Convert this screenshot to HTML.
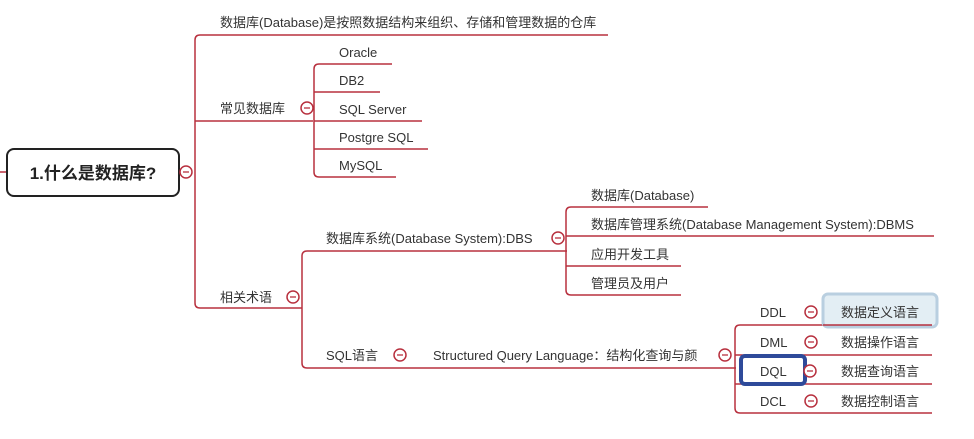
<!DOCTYPE html>
<html><head><meta charset="utf-8"><style>
html,body{margin:0;padding:0;background:#fff;width:974px;height:439px;overflow:hidden}
text{font-family:"Liberation Sans","Noto Sans CJK SC",sans-serif;font-size:13px;fill:#333}
</style></head><body>
<svg width="974" height="439" viewBox="0 0 974 439" xmlns="http://www.w3.org/2000/svg">
<g fill="none" stroke="#b8313f" stroke-width="1.5">
<line x1="0" y1="172" x2="7" y2="172"/>
<path d="M195 40 Q195 35 200 35 H608"/>
<line x1="195" y1="40" x2="195" y2="303"/>
<path d="M195 303 Q195 308 200 308 H300"/>
<line x1="195" y1="121" x2="313" y2="121"/>
<path d="M392 64 H319 Q314 64 314 69 V172 Q314 177 319 177 H396"/>
<line x1="314" y1="92" x2="380" y2="92"/>
<line x1="314" y1="121" x2="422" y2="121"/>
<line x1="314" y1="149" x2="428" y2="149"/>
<path d="M567 251 H307 Q302 251 302 256 V363 Q302 368 307 368 H736"/>
<line x1="300" y1="308" x2="302" y2="308"/>
<path d="M708 207 H571 Q566 207 566 212 V290 Q566 295 571 295 H681"/>
<line x1="566" y1="236" x2="934" y2="236"/>
<line x1="566" y1="266" x2="681" y2="266"/>
<path d="M932 325 H740 Q735 325 735 330 V408 Q735 413 740 413 H932"/>
<line x1="735" y1="355" x2="932" y2="355"/>
<line x1="735" y1="384" x2="932" y2="384"/>
</g>
<rect x="823" y="294" width="114" height="33" rx="5" fill="#e3eef4" stroke="#b9cfe0" stroke-width="3"/>
<line x1="823" y1="325" x2="932" y2="325" stroke="#b8313f" stroke-width="1.5"/>
<rect x="741" y="356" width="64" height="28" rx="4" fill="none" stroke="#2e4a9a" stroke-width="4"/>
<rect x="7" y="149" width="172" height="47" rx="7" fill="#fff" stroke="#222" stroke-width="2"/>
<text x="93" y="179" text-anchor="middle" style="font-size:17px;font-weight:bold;fill:#222">1.什么是数据库?</text>
<g fill="#fff" stroke="#b8313f" stroke-width="1.5">
<circle cx="186" cy="172" r="6"/><circle cx="307" cy="108" r="6"/><circle cx="293" cy="297" r="6"/>
<circle cx="558" cy="238" r="6"/><circle cx="400" cy="355" r="6"/><circle cx="725" cy="355" r="6"/>
<circle cx="811" cy="312" r="6"/><circle cx="811" cy="342" r="6"/><circle cx="810" cy="371" r="6"/><circle cx="811" cy="401" r="6"/>
</g>
<g stroke="#b8313f" stroke-width="1.3">
<line x1="183" y1="172" x2="189" y2="172"/><line x1="304" y1="108" x2="310" y2="108"/><line x1="290" y1="297" x2="296" y2="297"/>
<line x1="555" y1="238" x2="561" y2="238"/><line x1="397" y1="355" x2="403" y2="355"/><line x1="722" y1="355" x2="728" y2="355"/>
<line x1="808" y1="312" x2="814" y2="312"/><line x1="808" y1="342" x2="814" y2="342"/><line x1="807" y1="371" x2="813" y2="371"/><line x1="808" y1="401" x2="814" y2="401"/>
</g>
<text x="220" y="27">数据库(Database)是按照数据结构来组织、存储和管理数据的仓库</text>
<text x="220" y="113">常见数据库</text>
<text x="339" y="57">Oracle</text>
<text x="339" y="85">DB2</text>
<text x="339" y="114">SQL Server</text>
<text x="339" y="142">Postgre SQL</text>
<text x="339" y="170">MySQL</text>
<text x="220" y="302">相关术语</text>
<text x="326" y="243">数据库系统(Database System):DBS</text>
<text x="591" y="200">数据库(Database)</text>
<text x="591" y="229">数据库管理系统(Database Management System):DBMS</text>
<text x="591" y="259">应用开发工具</text>
<text x="591" y="288">管理员及用户</text>
<text x="326" y="360">SQL语言</text>
<text x="433" y="360">Structured Query Language：结构化查询与颜</text>
<text x="760" y="317">DDL</text><text x="841" y="317">数据定义语言</text>
<text x="760" y="347">DML</text><text x="841" y="347">数据操作语言</text>
<text x="760" y="376">DQL</text><text x="841" y="376">数据查询语言</text>
<text x="760" y="406">DCL</text><text x="841" y="406">数据控制语言</text>
</svg>
</body></html>
